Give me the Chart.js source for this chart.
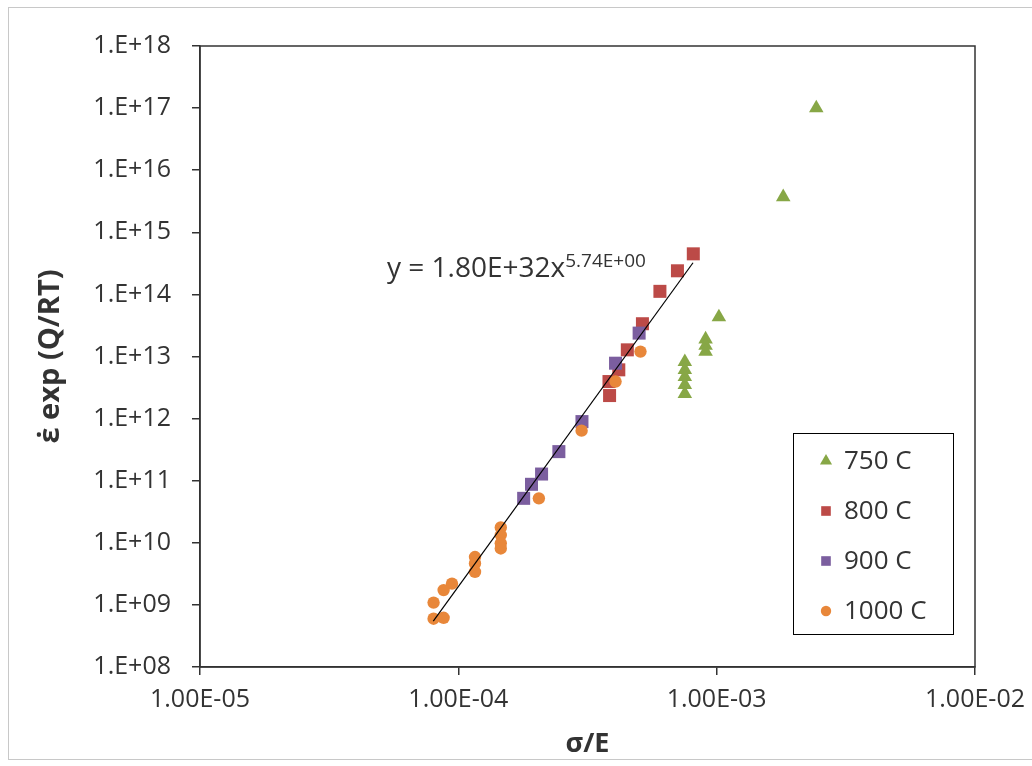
<!DOCTYPE html>
<html>
<head>
<meta charset="utf-8">
<title>Strain rate vs normalised stress</title>
<script src="https://cdn.jsdelivr.net/npm/chart.js@4.4.1/dist/chart.umd.min.js"></script>
<style>
  body { margin: 0; background: #fff; }
  #wrap { width: 1032px; height: 766px; }
</style>
</head>
<body>
<div id="wrap"><canvas id="chart" width="1032" height="766"></canvas></div>
<script>
// Series labels and colours
const SERIES_LABELS = ["750 C", "800 C", "900 C", "1000 C"];
const SERIES_COLORS = ["#87A746", "#BC4A47", "#7B5E9F", "#E8873A"];
const SERIES_STYLES = ["triangle", "rect", "rect", "circle"];

// 750 C
const T750_X = [2.43e-3, 1.81e-3, 1.02e-3, 9.06e-4, 9.06e-4, 9.06e-4, 7.53e-4, 7.53e-4, 7.53e-4, 7.53e-4, 7.53e-4];
const T750_Y = [1.0e17, 3.7e15, 4.3e13, 1.9e13, 1.5e13, 1.2e13, 8.2e12, 6.1e12, 4.7e12, 3.5e12, 2.5e12];

// 800 C
const T800_X = [8.12e-4, 7.05e-4, 6.03e-4, 5.16e-4, 4.51e-4, 4.18e-4, 3.83e-4, 3.85e-4];
const T800_Y = [4.5e14, 2.4e14, 1.12e14, 3.37e13, 1.28e13, 6.1e12, 3.95e12, 2.35e12];

// 900 C
const T900_X = [5.01e-4, 4.06e-4, 3.01e-4, 2.45e-4, 2.10e-4, 1.92e-4, 1.79e-4];
const T900_Y = [2.38e13, 7.8e12, 8.95e11, 2.94e11, 1.28e11, 8.75e10, 5.2e10];

// 1000 C
const T1000_X = [5.07e-4, 4.06e-4, 3.0e-4, 2.05e-4, 1.46e-4, 1.46e-4, 1.46e-4, 1.46e-4, 1.16e-4, 1.16e-4, 1.16e-4, 9.45e-5, 8.77e-5, 8.02e-5, 8.02e-5, 8.77e-5];
const T1000_Y = [1.2e13, 3.95e12, 6.4e11, 5.2e10, 1.77e10, 1.33e10, 9.8e9, 8.1e9, 5.9e9, 4.65e9, 3.4e9, 2.2e9, 1.73e9, 1.09e9, 6.0e8, 6.2e8];

// Power-law trendline y = A * x^B over the fitted x range
const TREND_A = 1.80e32;
const TREND_B = 5.74;
const TREND_X = [8.0e-5, 8.1e-4];
const TREND_LABEL = "y = 1.80E+32x";
const TREND_EXP = "5.74E+00";

// Axis ticks
const X_TICKS = [1e-5, 1e-4, 1e-3, 1e-2];
const X_TICK_LABELS = ["1.00E-05", "1.00E-04", "1.00E-03", "1.00E-02"];
const Y_TICKS = [1e8, 1e9, 1e10, 1e11, 1e12, 1e13, 1e14, 1e15, 1e16, 1e17, 1e18];
const Y_TICK_LABELS = ["1.E+08", "1.E+09", "1.E+10", "1.E+11", "1.E+12", "1.E+13", "1.E+14", "1.E+15", "1.E+16", "1.E+17", "1.E+18"];

const X_TITLE = "σ/E";
const Y_TITLE = "ε̇ exp (Q/RT)";

const FONT = "'Open Sans', 'Liberation Sans', sans-serif";
const TEXT_COLOR = "#333";

function toPoints(xs, ys) {
  return xs.map((x, i) => ({ x: x, y: ys[i] }));
}

const seriesX = [T750_X, T800_X, T900_X, T1000_X];
const seriesY = [T750_Y, T800_Y, T900_Y, T1000_Y];

const datasets = SERIES_LABELS.map((label, i) => ({
  label: label,
  data: toPoints(seriesX[i], seriesY[i]),
  showLine: false,
  pointStyle: SERIES_STYLES[i],
  pointRadius: SERIES_STYLES[i] === "circle" ? 6.2 : (SERIES_STYLES[i] === "rect" ? 9.2 : 8.4),
  pointBackgroundColor: SERIES_COLORS[i],
  pointBorderWidth: 0,
  pointBorderColor: SERIES_COLORS[i],
  order: 4 - i,
}));

// trendline drawn on top of markers
datasets.push({
  label: "trend",
  data: TREND_X.map((x) => ({ x: x, y: TREND_A * Math.pow(x, TREND_B) })),
  showLine: true,
  borderColor: "#000",
  borderWidth: 1.2,
  pointRadius: 0,
  order: 0,
});

// Outer frame, plot box, equation and legend
const decorations = {
  id: "decorations",
  beforeDraw(chart) {
    const ctx = chart.ctx;
    ctx.save();
    ctx.fillStyle = "#fff";
    ctx.fillRect(0, 0, chart.width, chart.height);
    ctx.strokeStyle = "#c8c8c8";
    ctx.lineWidth = 1;
    ctx.strokeRect(8.5, 7.5, chart.width, 752);
    ctx.restore();
  },
  afterDraw(chart) {
    const ctx = chart.ctx;
    const a = chart.chartArea;
    ctx.save();

    // plot area box
    ctx.strokeStyle = "#333";
    ctx.lineWidth = 1.5;
    ctx.strokeRect(a.left, a.top, a.right - a.left, a.bottom - a.top);

    // trendline equation
    ctx.fillStyle = TEXT_COLOR;
    ctx.textBaseline = "alphabetic";
    ctx.textAlign = "left";
    ctx.font = "28px " + FONT;
    const ex = a.left + 187;
    const ey = a.top + 231;
    ctx.fillText(TREND_LABEL, ex, ey);
    const w = ctx.measureText(TREND_LABEL).width;
    ctx.font = "19px " + FONT;
    ctx.fillText(TREND_EXP, ex + w, ey - 10);

    // legend box
    const lx = a.right - 182;
    const ly = a.top + 387;
    ctx.strokeStyle = "#000";
    ctx.lineWidth = 1;
    ctx.strokeRect(lx + 0.5, ly + 0.5, 160, 201);
    ctx.font = "26px " + FONT;
    ctx.textBaseline = "middle";
    SERIES_LABELS.forEach((label, i) => {
      const cy = ly + 28 + i * 50;
      const opts = {
        pointStyle: SERIES_STYLES[i],
        radius: SERIES_STYLES[i] === "circle" ? 5.2 : (SERIES_STYLES[i] === "rect" ? 6.8 : 7),
        borderWidth: 0,
        rotation: 0,
      };
      ctx.fillStyle = SERIES_COLORS[i];
      ctx.strokeStyle = SERIES_COLORS[i];
      Chart.helpers.drawPoint(ctx, opts, lx + 33, cy);
      ctx.fillStyle = TEXT_COLOR;
      ctx.fillText(label, lx + 51, cy + 1);
    });

    ctx.restore();
  },
};

const ctx = document.getElementById("chart").getContext("2d");

new Chart(ctx, {
  type: "scatter",
  data: { datasets: datasets },
  plugins: [decorations],
  options: {
    responsive: false,
    animation: false,
    devicePixelRatio: 1,
    layout: {
      padding: { left: 0, top: 46, right: 57, bottom: 0 },
    },
    plugins: {
      legend: { display: false },
      tooltip: { enabled: false },
    },
    scales: {
      x: {
        type: "logarithmic",
        min: 1e-5,
        max: 1e-2,
        afterBuildTicks: (scale) => {
          scale.ticks = X_TICKS.map((v) => ({ value: v }));
        },
        afterFit: (scale) => {
          scale.height = 99;
          // let the last label overhang, as in the original
          scale.paddingLeft = 0;
          scale.paddingRight = 0;
        },
        ticks: {
          autoSkip: false,
          maxRotation: 0,
          padding: 10,
          color: TEXT_COLOR,
          font: { family: FONT, size: 25 },
          callback: (value, index) => X_TICK_LABELS[index],
        },
        grid: {
          drawOnChartArea: false,
          drawTicks: true,
          tickLength: 8,
          color: "#333",
          lineWidth: 1.5,
        },
        border: { display: true, color: "#333", width: 1.5 },
        title: {
          display: true,
          text: X_TITLE,
          color: TEXT_COLOR,
          font: { family: FONT, size: 27, weight: "bold" },
          padding: { top: 0, bottom: 5 },
        },
      },
      y: {
        type: "logarithmic",
        min: 1e8,
        max: 1e18,
        afterBuildTicks: (scale) => {
          scale.ticks = Y_TICKS.map((v) => ({ value: v }));
        },
        afterFit: (scale) => {
          scale.width = 200;
        },
        ticks: {
          autoSkip: false,
          padding: 21,
          color: TEXT_COLOR,
          font: { family: FONT, size: 25 },
          callback: (value, index) => Y_TICK_LABELS[index],
        },
        grid: {
          drawOnChartArea: false,
          drawTicks: true,
          tickLength: 8,
          color: "#333",
          lineWidth: 1.5,
        },
        border: { display: true, color: "#333", width: 1.5 },
        title: {
          display: true,
          text: Y_TITLE,
          color: TEXT_COLOR,
          font: { family: FONT, size: 29, weight: "bold" },
          padding: { top: 33, bottom: 0 },
        },
      },
    },
  },
});
</script>
</body>
</html>
